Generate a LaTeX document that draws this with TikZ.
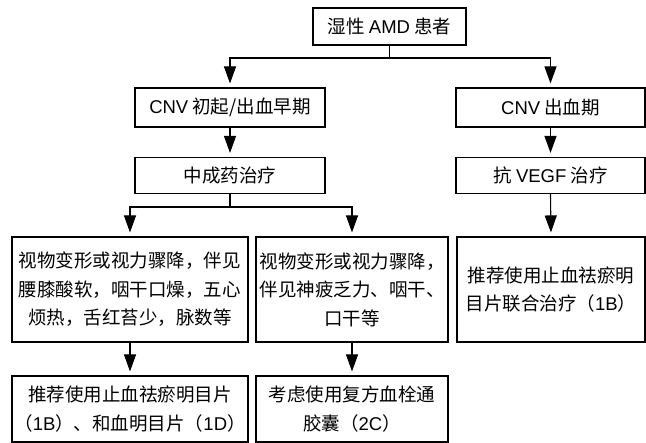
\documentclass[tikz,border=0pt]{standalone}
\usepackage{fontspec}
\setmainfont{Liberation Sans}
\newfontfamily\cjk{Noto Sans CJK SC}
\newcommand{\lat}[1]{{\rmfamily #1}}
\usetikzlibrary{arrows.meta}
\begin{document}
\begin{tikzpicture}[x=1pt,y=-1pt,
  box/.style={draw, line width=1.1pt, inner sep=0pt, align=center,
    font=\cjk\fontsize{18.5}{28.5}\selectfont},
  conn/.style={line width=1.1pt, shorten >=4pt, -{Triangle[length=17pt,width=12pt]}},
  seg/.style={line width=1.1pt}]
\useasboundingbox (0,0) rectangle (646,443);
\node[box, minimum width=153pt, minimum height=37pt] (top) at (389.5,26.5) {湿性 \lat{AMD} 患者};
\node[box, minimum width=190pt, minimum height=39pt] (cnvA) at (230,107.5) {\lat{CNV} 初起/出血早期};
\node[box, minimum width=189pt, minimum height=39pt] (cnvB) at (550.5,107.5) {\lat{CNV} 出血期};
\node[box, minimum width=190pt, minimum height=36pt] (zcy) at (230,175.5) {中成药治疗};
\node[box, minimum width=189pt, minimum height=36pt] (vegf) at (550.5,175.5) {抗 \lat{VEGF} 治疗};
\node[box, minimum width=236pt, minimum height=105pt] (b1) at (130,289.5)
  {视物变形或视力骤降，伴见\\腰膝酸软，咽干口燥，五心\\烦热，舌红苔少，脉数等};
\node[box, minimum width=192pt, minimum height=105pt] (b2) at (352,289.5)
  {视物变形或视力骤降，\\伴见神疲乏力、咽干、\\口干等};
\node[box, minimum width=188pt, minimum height=105pt] (b3) at (551,289.5)
  {推荐使用止血祛瘀明\\目片联合治疗（\lat{1B}）};
\node[box, minimum width=236pt, minimum height=66pt] (c1) at (130,409)
  {推荐使用止血祛瘀明目片\\（\lat{1B}）、和血明目片（\lat{1D}）};
\node[box, minimum width=192pt, minimum height=66pt] (c2) at (352,409)
  {考虑使用复方血栓通\\胶囊（\lat{2C}）};
\coordinate (j1) at (389.5,58);
\coordinate (j2) at (230,207);
\draw[seg] (top.south) -- (j1);
\draw[conn] (j1) -| (cnvA.north);
\draw[conn] (j1) -| (cnvB.north);
\draw[conn] (cnvA.south) -- (zcy.north);
\draw[conn] (cnvB.south) -- (vegf.north);
\draw[seg] (zcy.south) -- (j2);
\draw[conn] (j2) -| (b1.north);
\draw[conn] (j2) -| (b2.north);
\draw[conn] (vegf.south) -- (b3.north);
\draw[conn] (b1.south) -- (c1.north);
\draw[conn] (b2.south) -- (c2.north);
\end{tikzpicture}
\end{document}
